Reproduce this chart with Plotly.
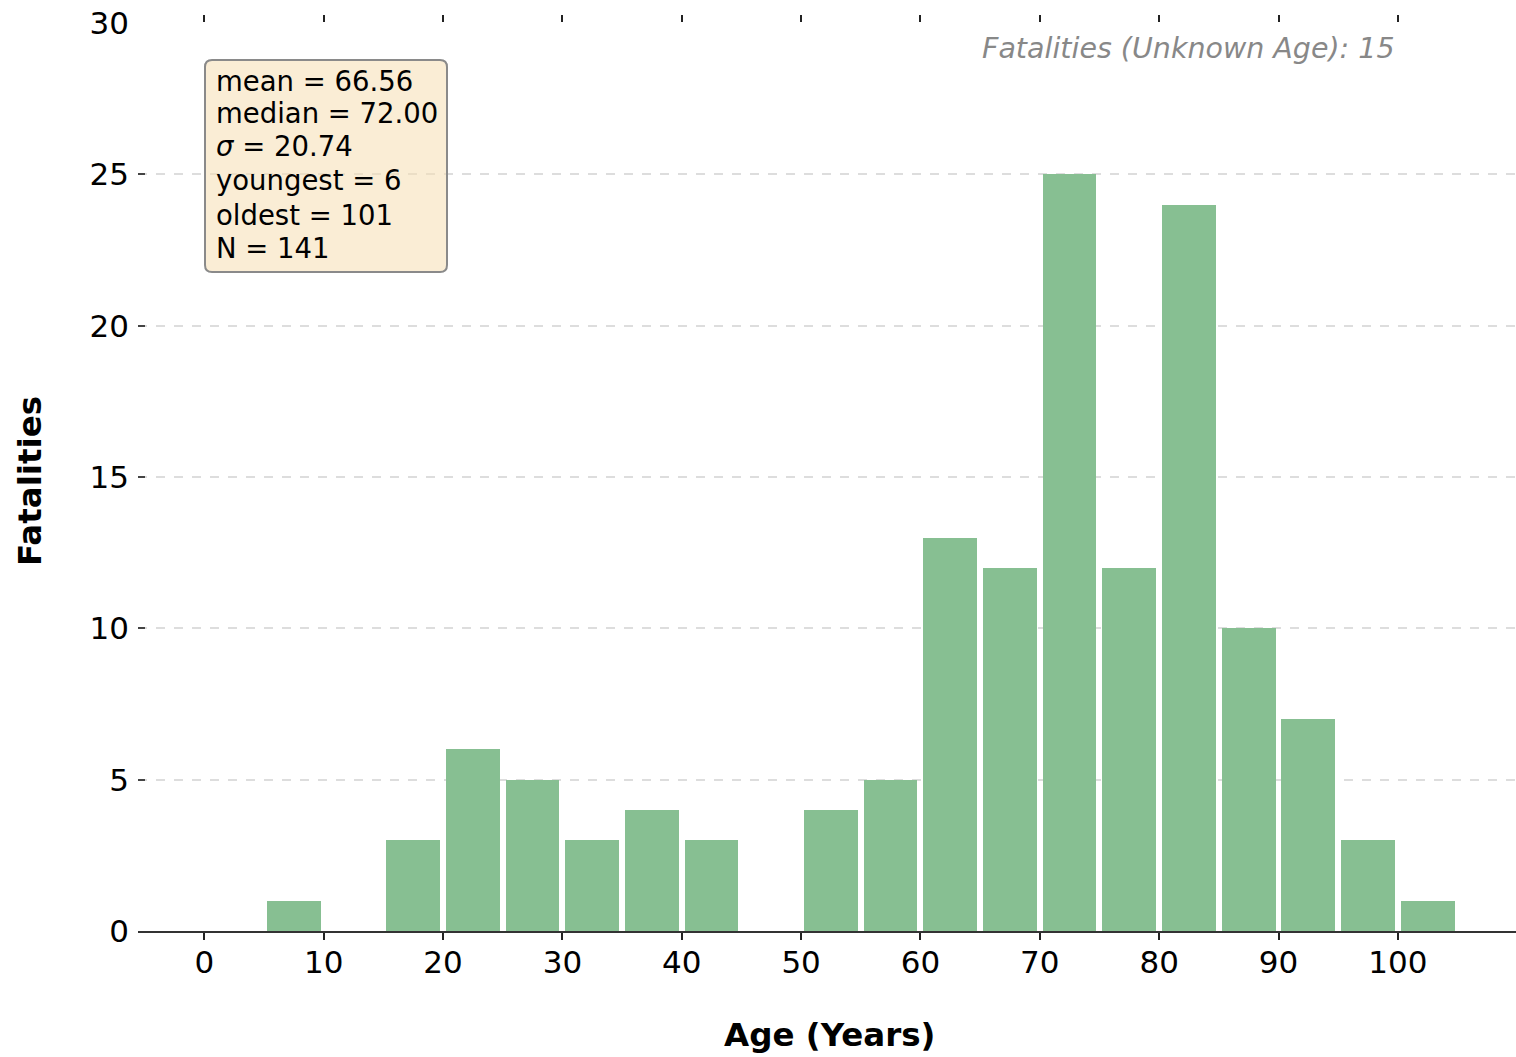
import plotly.graph_objects as go

# ---- data ----
bin_left = [5, 10, 15, 20, 25, 30, 35, 40, 45, 50, 55, 60, 65, 70, 75, 80, 85, 90, 95, 100]
counts = [1, 0, 3, 6, 5, 3, 4, 3, 0, 4, 5, 13, 12, 25, 12, 24, 10, 7, 3, 1]
bin_width = 5
x_ticks = [0, 10, 20, 30, 40, 50, 60, 70, 80, 90, 100]
y_ticks = [0, 5, 10, 15, 20, 25, 30]
stats_lines = ["mean = 66.56", "median = 72.00", "<i>σ</i> = 20.74",
               "youngest = 6", "oldest = 101", "N = 141"]
unknown_note = "Fatalities (Unknown Age): 15"
x_title = "Age (Years)"
y_title = "Fatalities"

W, H = 1516, 1057
L, R, T, B = 138, 0, 23, 126
PW, PH = W - L - R, H - T - B

def px(xp):
    return (xp - L) / PW

def py(yp):
    return 1 - (yp - T) / PH

centers = [b + bin_width / 2 for b in bin_left]
FONT = "DejaVu Sans"

fig = go.Figure()
fig.add_trace(go.Bar(x=centers, y=counts, width=bin_width * 0.9,
                     marker=dict(color="#87bf92", line=dict(width=0)),
                     showlegend=False, hoverinfo="x+y"))
# invisible trace for the top tick axis
fig.add_trace(go.Scatter(x=[x_ticks[0]], y=[0], xaxis="x2", mode="markers",
                         marker=dict(opacity=0), showlegend=False, hoverinfo="skip"))

xr = [-5.56, 109.9]
fig.update_layout(
    width=W, height=H,
    margin=dict(l=L, r=R, t=T, b=B, pad=0),
    paper_bgcolor="white", plot_bgcolor="white",
    font=dict(family=FONT, size=30, color="black"),
    bargap=0,
    xaxis=dict(range=xr, tickvals=x_ticks, ticks="outside", ticklen=7, tickwidth=2,
               tickcolor="#222", showline=True, linecolor="#333", linewidth=2,
               showgrid=False, zeroline=False, ticklabelstandoff=-4,
               tickfont=dict(size=31, family=FONT)),
    xaxis2=dict(range=xr, overlaying="x", side="top", tickvals=x_ticks, ticks="outside",
                ticklen=7, tickwidth=2, tickcolor="#222", showticklabels=False,
                showline=False, showgrid=False, zeroline=False),
    yaxis=dict(range=[0, 30.001], tickvals=y_ticks, ticks="inside", ticklen=7, tickwidth=1.5,
               tickcolor="#444", showline=False, zeroline=False, showgrid=True,
               gridcolor="#dddddd", griddash="dash", gridwidth=1.5,
               ticklabelstandoff=8, tickfont=dict(size=31, family=FONT)),
)

# stats box with rounded corners
x0, x1 = px(205), px(447)
y0, y1 = py(272), py(60)
rx, ry = 7 / PW, 7 / PH
path = (f"M {x0+rx} {y1} L {x1-rx} {y1} Q {x1} {y1} {x1} {y1-ry} "
        f"L {x1} {y0+ry} Q {x1} {y0} {x1-rx} {y0} L {x0+rx} {y0} "
        f"Q {x0} {y0} {x0} {y0+ry} L {x0} {y1-ry} Q {x0} {y1} {x0+rx} {y1} Z")
fig.add_shape(type="path", path=path, xref="paper", yref="paper",
              fillcolor="rgba(245,222,179,0.55)", line=dict(color="#8a8a8a", width=2))

line_y = [81, 113, 146, 180, 215, 248]
for txt, yy in zip(stats_lines, line_y):
    fig.add_annotation(text=txt, xref="paper", yref="paper", x=px(214), y=py(yy),
                       xanchor="left", yanchor="middle", showarrow=False,
                       font=dict(family=FONT, size=27.5, color="black"))

fig.add_annotation(text=f"<i>{unknown_note}</i>", xref="paper", yref="paper",
                   x=px(1397), y=py(48), xanchor="right", yanchor="middle",
                   showarrow=False, font=dict(family=FONT, size=28.5, color="#888888"))

fig.add_annotation(text=f"<b>{x_title}</b>", xref="paper", yref="paper",
                   x=px(829), y=py(1035), xanchor="center", yanchor="middle",
                   showarrow=False, font=dict(family=FONT, size=32.5, color="black"))
fig.add_annotation(text=f"<b>{y_title}</b>", xref="paper", yref="paper",
                   x=px(30), y=py(481), xanchor="center", yanchor="middle",
                   textangle=-90, showarrow=False,
                   font=dict(family=FONT, size=32.5, color="black"))

fig.write_html("out.html", config={"displayModeBar": False},
               post_script="document.body.style.margin='0';document.body.style.overflow='hidden';")
